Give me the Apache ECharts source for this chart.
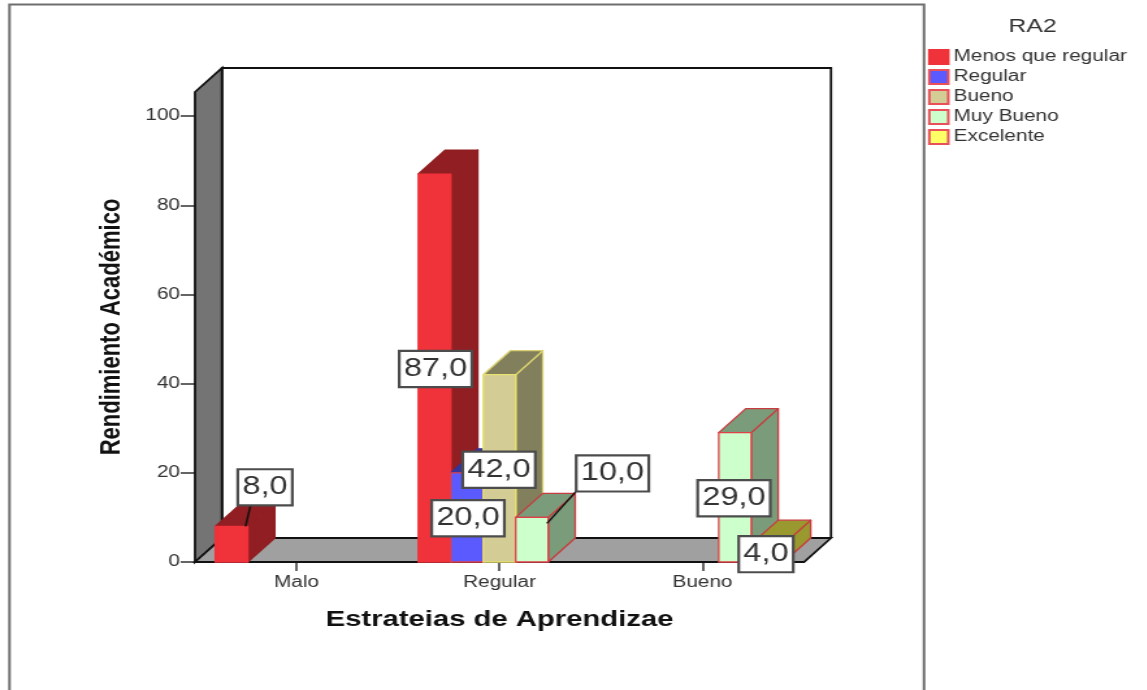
<!DOCTYPE html>
<html>
<head>
<meta charset="utf-8">
<title>Rendimiento Académico</title>
<style>
html, body { margin: 0; padding: 0; background: #fff; overflow: hidden; }
/* la imagen original esta estirada a lo ancho, el lienzo se estira igual */
#chart { width: 882.3px; height: 690px; transform: scaleX(1.3); transform-origin: 0 0; }
</style>
<script src="https://cdn.jsdelivr.net/npm/echarts@6/dist/echarts.min.js"></script>
</head>
<body>
<div id="chart"></div>
<script>
var categories = ['Malo', 'Regular', 'Bueno'];
var seriesNames = ['Menos que regular', 'Regular', 'Bueno', 'Muy Bueno', 'Excelente'];
var menosQueRegular = [8, 87, null];
var regular = [null, 20, null];
var bueno = [null, 42, null];
var muyBueno = [null, 10, 29];
var excelente = [null, null, 4];
var allValues = [menosQueRegular, regular, bueno, muyBueno, excelente];
var yTicks = [0, 20, 40, 60, 80, 100];

var S = 1.3; // estiramiento horizontal
function px(x) { return x / S; }

var faceColors = ['#f0323a', '#5a5aff', '#d3cc94', '#ccffcc', '#ffff66'];
var shadeColors = ['#901e22', '#34349a', '#827f5c', '#7a9c7a', '#99992f'];
var edgeColors = ['#f0323a', '#e0404a', '#e8e070', '#e04048', '#e04048'];
var shadeEdgeColors = ['#901e22', '#34349a', '#d8d070', '#c83c40', '#c83c40'];
var depthX = px(27), depthY = 24;
var fontName = '"Liberation Sans", Arial, sans-serif';

// posicion de cada etiqueta respecto al centro superior de su barra: serie-categoria
var labelPlacement = {
    '0-0': { dx: 33.5, dy: -39, leader: [14, 0, 19, -21] },
    '0-1': { dx: 1, dy: 195 },
    '1-1': { dx: 1, dy: 45.5 },
    '2-1': { dx: -0.5, dy: 95 },
    '3-1': { dx: 80.5, dy: -44, leader: [15, 6, 45, -27] },
    '3-2': { dx: -1, dy: 65.5 },
    '4-2': { dx: -1.5, dy: 10 }
};

function barGeom(api, idx) {
    var band = api.size([1, 0])[0];
    var w = band / 6.25;
    var base = api.coord([api.value(0), 0]);
    var top = api.coord([api.value(0), api.value(1)]);
    var left = base[0] + (idx - 2.5) * w;
    return { left: left, right: left + w, cx: left + w / 2, top: top[1], bottom: base[1], w: w };
}

function renderBar(idx) {
    return function (params, api) {
        var g = barGeom(api, idx);
        var shade = { fill: shadeColors[idx], stroke: shadeEdgeColors[idx], lineWidth: 1.3, lineJoin: 'round' };
        return {
            type: 'group',
            children: [
                { type: 'polygon', shape: { points: [[g.right, g.top], [g.right + depthX, g.top - depthY], [g.right + depthX, g.bottom - depthY], [g.right, g.bottom]] },
                  style: shade },
                { type: 'polygon', shape: { points: [[g.left, g.top], [g.left + depthX, g.top - depthY], [g.right + depthX, g.top - depthY], [g.right, g.top]] },
                  style: shade },
                { type: 'rect', shape: { x: g.left, y: g.top, width: g.w, height: g.bottom - g.top },
                  style: { fill: faceColors[idx], stroke: edgeColors[idx], lineWidth: 1.3 } }
            ]
        };
    };
}

function renderWalls(params) {
    var c = params.coordSys;
    var l = c.x, r = c.x + c.width, t = c.y, b = c.y + c.height;
    var dark = { stroke: '#111', lineWidth: 1.8 };
    return {
        type: 'group',
        children: [
            { type: 'polygon', shape: { points: [[l, t], [l + depthX, t - depthY], [l + depthX, b - depthY], [l, b]] },
              style: Object.assign({ fill: '#747474' }, dark) },
            { type: 'polygon', shape: { points: [[l, b], [l + depthX, b - depthY], [r + depthX, b - depthY], [r, b]] },
              style: Object.assign({ fill: '#a0a0a0' }, dark) },
            { type: 'polyline', shape: { points: [[l + depthX, b - depthY], [l + depthX, t - depthY], [r + depthX, t - depthY], [r + depthX, b - depthY]] },
              style: Object.assign({ fill: 'none' }, dark) }
        ]
    };
}

function renderLabel(params, api) {
    var idx = api.value(2);
    var g = barGeom(api, idx);
    var place = labelPlacement[idx + '-' + api.value(0)];
    var txt = api.value(1).toFixed(1).replace('.', ',');
    var x = g.cx + px(place.dx), y = g.top + place.dy;
    var children = [];
    if (place.leader) {
        var p = place.leader;
        children.push({ type: 'line', shape: { x1: g.cx + px(p[0]), y1: g.top + p[1], x2: g.cx + px(p[2]), y2: g.top + p[3] },
            style: { stroke: '#111', lineWidth: 1.5 } });
    }
    children.push({
        type: 'text', x: x, y: y,
        style: {
            text: txt, align: 'center', verticalAlign: 'middle',
            font: '25px ' + fontName, fill: '#333',
            backgroundColor: '#fff', borderColor: '#4c4c4c', borderWidth: 2.2,
            padding: [5, 2.5, 4, 2.5]
        }
    });
    return { type: 'group', children: children };
}

var series = [{
    type: 'custom', name: 'paredes', z: 1, silent: true,
    data: [[0, 0]], renderItem: renderWalls, coordinateSystem: 'cartesian2d'
}];
seriesNames.forEach(function (name, i) {
    var rows = [];
    allValues[i].forEach(function (v, c) { if (v !== null) rows.push([c, v]); });
    series.push({
        type: 'custom', name: name, z: 2 + i,
        itemStyle: { color: faceColors[i], borderColor: i === 0 ? '#f0323a' : '#e8505a', borderWidth: 2 },
        encode: { x: 0, y: 1 },
        data: rows, renderItem: renderBar(i)
    });
});
var labelRows = [];
allValues.forEach(function (vals, i) {
    vals.forEach(function (v, c) { if (v !== null) labelRows.push([c, v, i]); });
});
series.push({
    type: 'custom', name: 'etiquetas', z: 20, silent: true,
    encode: { x: 0, y: 1 },
    data: labelRows, renderItem: renderLabel
});

var chart = echarts.init(document.getElementById('chart'), null, { renderer: 'canvas' });
chart.setOption({
    animation: false,
    backgroundColor: '#fff',
    title: {
        text: 'RA2', left: px(1026), top: 12, textAlign: 'center',
        textStyle: { fontFamily: fontName, fontSize: 19, fontWeight: 'normal', color: '#333' }
    },
    legend: {
        data: seriesNames, icon: 'rect', orient: 'vertical', left: px(928), top: 47,
        itemWidth: px(19), itemHeight: 14, itemGap: 4, padding: [2, 0, 0, 0], selectedMode: false,
        textStyle: { fontFamily: fontName, fontSize: 16, color: '#333', padding: [0, 0, 0, -1], height: 16, lineHeight: 16 }
    },
    grid: { left: px(195), width: px(609), top: 92, height: 470, containLabel: false },
    xAxis: {
        type: 'category', data: categories,
        name: 'Estrateias de Aprendizae', nameLocation: 'middle', nameGap: 46,
        nameTextStyle: { fontFamily: fontName, fontWeight: 'bold', fontSize: 22.5, color: '#111' },
        axisLine: { show: false },
        axisTick: { show: true, alignWithLabel: true, length: 9, lineStyle: { color: '#333', width: 1.5 } },
        axisLabel: { margin: 13, fontFamily: fontName, fontSize: 16, color: '#333' }
    },
    yAxis: {
        type: 'value', min: 0, max: 105.4,
        name: 'Rendimiento Académico', nameLocation: 'middle', nameGap: 53,
        nameTextStyle: { fontFamily: fontName, fontWeight: 'bold', fontSize: 22, color: '#111' },
        splitLine: { show: false },
        axisLine: { show: false },
        axisTick: { show: true, length: 11, customValues: yTicks, lineStyle: { color: '#333', width: 1.5 } },
        axisLabel: { margin: 11.5, customValues: yTicks, fontFamily: fontName, fontSize: 16, color: '#333' }
    },
    graphic: [{
        type: 'polyline', silent: true,
        shape: { points: [[px(9.5), 692], [px(9.5), 4.5], [px(924), 4.5], [px(924), 692]] },
        style: { fill: 'none', stroke: '#6e6e6e', lineWidth: 2 }
    }],
    series: series
});
</script>
</body>
</html>
